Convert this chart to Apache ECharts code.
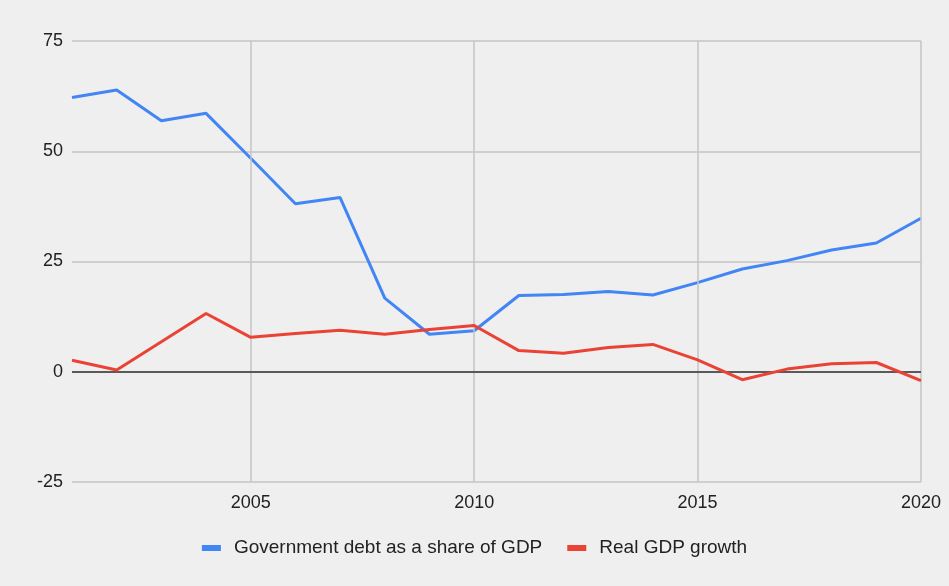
<!DOCTYPE html>
<html>
<head>
<meta charset="utf-8">
<script src="https://cdn.jsdelivr.net/npm/echarts@6/dist/echarts.min.js"></script>
<style>
  html, body { margin: 0; padding: 0; background: #efefef; }
  #chart { width: 949px; height: 586px; }
</style>
</head>
<body>
<div id="chart"></div>
<script>
const years = [2001, 2002, 2003, 2004, 2005, 2006, 2007, 2008, 2009, 2010,
               2011, 2012, 2013, 2014, 2015, 2016, 2017, 2018, 2019, 2020];
const debtShare = [62.2, 63.9, 56.9, 58.6, 48.4, 38.1, 39.5, 16.7, 8.5, 9.3,
                   17.3, 17.5, 18.2, 17.4, 20.2, 23.3, 25.2, 27.6, 29.2, 34.8];
const gdpGrowth = [2.6, 0.4, 6.8, 13.2, 7.8, 8.7, 9.4, 8.5, 9.6, 10.5,
                   4.8, 4.2, 5.5, 6.2, 2.7, -1.8, 0.6, 1.8, 2.1, -2.0];
const xTicks = [2005, 2010, 2015, 2020];
const yMin = -25, yMax = 75, yStep = 25;

const pair = (xs, ys) => xs.map((x, i) => [x, ys[i]]);
const FONT = '"Liberation Sans", Arial, sans-serif';

const chart = echarts.init(document.getElementById('chart'));
chart.setOption({
  backgroundColor: '#efefef',
  textStyle: { fontFamily: FONT },
  grid: { left: 72, right: 28, top: 41, bottom: 104, containLabel: false },
  xAxis: {
    type: 'value',
    min: years[0],
    max: years[years.length - 1],
    axisLine: { show: false },
    axisTick: { show: false },
    splitLine: { show: false },
    axisLabel: {
      customValues: xTicks,
      color: '#222',
      fontFamily: FONT,
      fontSize: 18,
      margin: 12,
      formatter: v => String(v)
    }
  },
  yAxis: {
    type: 'value',
    min: yMin,
    max: yMax,
    interval: yStep,
    axisLine: { show: false },
    axisTick: { show: false },
    axisLabel: { color: '#222', fontFamily: FONT, fontSize: 18, margin: 9 },
    splitLine: { lineStyle: { color: '#c4c4c4', width: 1.5 } }
  },
  legend: {
    top: 533,
    left: 'center',
    itemWidth: 19,
    itemHeight: 6,
    itemGap: 25,
    icon: 'rect',
    textStyle: {
      color: '#222',
      fontFamily: FONT,
      fontSize: 19,
      lineHeight: 20,
      padding: [0, 0, 0, 8]
    },
    data: ['Government debt as a share of GDP', 'Real GDP growth']
  },
  series: [
    {
      name: 'Government debt as a share of GDP',
      type: 'line',
      data: pair(years, debtShare),
      symbol: 'none',
      color: '#4285f4',
      lineStyle: { width: 3, color: '#4285f4' },
      z: 4,
      markLine: {
        silent: true,
        symbol: 'none',
        label: { show: false },
        lineStyle: { color: '#c4c4c4', width: 1.5, type: 'solid' },
        data: xTicks.map(x => ({ xAxis: x }))
      }
    },
    {
      name: 'Real GDP growth',
      type: 'line',
      data: pair(years, gdpGrowth),
      symbol: 'none',
      color: '#ea4335',
      lineStyle: { width: 3, color: '#ea4335' },
      z: 5,
      markLine: {
        silent: true,
        symbol: 'none',
        label: { show: false },
        lineStyle: { color: '#333', width: 1.5, type: 'solid' },
        data: [{ yAxis: 0 }]
      }
    }
  ]
});
</script>
</body>
</html>
